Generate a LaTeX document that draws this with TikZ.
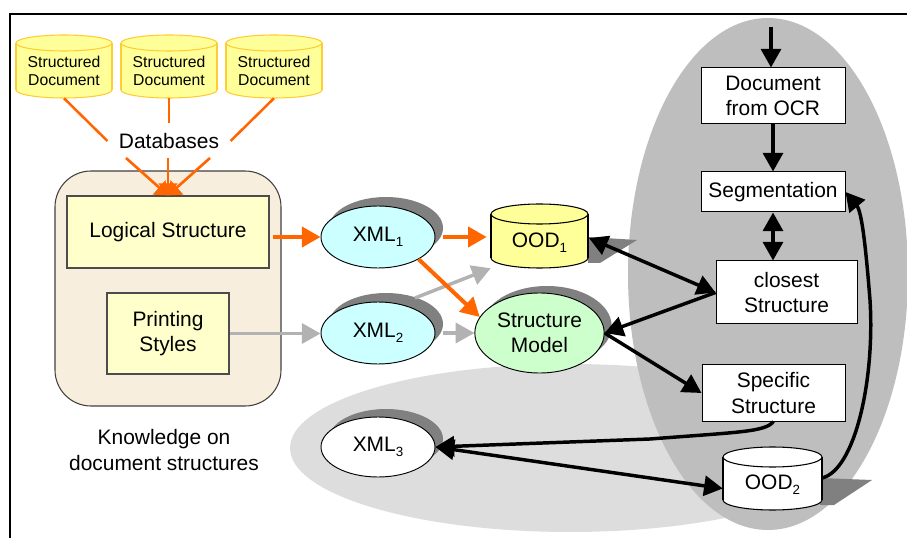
\documentclass[tikz,border=0pt]{standalone}
\usepackage{fontspec}
\setmainfont{Liberation Sans}
\usetikzlibrary{arrows.meta,shapes.geometric,calc}
\definecolor{orng}{HTML}{FF6600}
\definecolor{gryarrow}{HTML}{B2B2B2}
\definecolor{shd}{HTML}{808080}
\definecolor{bigg}{HTML}{BEBEBE}
\definecolor{lightg}{HTML}{DDDDDD}
\definecolor{beige}{HTML}{F8EEDD}
\definecolor{paley}{HTML}{FFFFCC}
\definecolor{midy}{HTML}{FFFF99}
\definecolor{cyanf}{HTML}{CCFFFF}
\definecolor{mint}{HTML}{CCFFCC}
\definecolor{cyledge}{HTML}{FFCC33}
\newcommand{\bigfont}{\fontsize{15.7}{18.8}\selectfont}
\newcommand{\smallfont}{\fontsize{11.8}{14.4}\selectfont}
\newcommand{\sbs}[1]{\raisebox{-0.45ex}{\fontsize{10}{10}\selectfont #1}}
\newcommand{\lift}[1]{\rule[-#1]{0pt}{1pt}}
\newcommand{\cyl}[9]{%
  \pgfmathsetmacro{\cylx}{(#2+#4)/2}\pgfmathsetmacro{\cylr}{(#4-#2)/2}%
  \path[fill=#7,draw=#8,line width=.8pt] (\cylx,#5-#6) ellipse [x radius=\cylr,y radius=#6];
  \fill[#7] (#2,#3+#6) rectangle (#4,#5-#6);
  \draw[#8,line width=.8pt] (#2,#3+#6) -- (#2,#5-#6) (#4,#3+#6) -- (#4,#5-#6);
  \path[fill=#7,draw=#8,line width=.8pt] (\cylx,#3+#6) ellipse [x radius=\cylr,y radius=#6];
  \pgfmathsetmacro{\cyly}{(#3+2*#6+#5)/2}\pgfmathsetmacro{\cylw}{(#4-#2)*.75}\pgfmathsetmacro{\cylh}{(#5-#3-2*#6)*.75}%
  \node[cyltext,minimum width=\cylw pt,minimum height=\cylh pt] (#1) at (\cylx,\cyly) {#9};
}
\tikzset{
  cyltext/.style={inner sep=0pt,align=center},
  whitebox/.style={draw=black,line width=.75pt,fill=white,inner sep=0pt,align=center,font=\bigfont},
  ybox/.style={draw=black!70,line width=.9pt,fill=paley,inner sep=0pt,align=center,font=\bigfont},
  ell/.style={ellipse,draw=black,line width=.7pt,inner sep=0pt,font=\bigfont,align=center},
  ellshadow/.style={ellipse,fill=shd,inner sep=0pt},
  blk/.style={line width=2.6pt,-{Triangle[length=14pt,width=15pt]}},
  blkboth/.style={line width=2.6pt,{Triangle[length=14pt,width=15pt]}-{Triangle[length=14pt,width=15pt]}},
  org/.style={orng,line width=3pt,-{Triangle[length=14pt,width=15pt]}},
  orgline/.style={orng,line width=1.9pt},
  orgthin/.style={orng,line width=2pt,-{Triangle[length=9pt,width=14pt]}},
  gry/.style={gryarrow,line width=2.6pt,-{Triangle[length=14pt,width=15pt]}},
  plaintext/.style={font=\bigfont,align=center,inner sep=0pt},
}
\begin{document}
\begin{tikzpicture}[x=.75pt,y=-.75pt]
\useasboundingbox (0,0) rectangle (907,538);
\draw[black,line width=2.2pt] (10,538) -- (10,14) -- (907,14);

% background ellipses
\fill[lightg] (570,448) ellipse [x radius=280,y radius=84];
\fill[bigg] (768,274) ellipse [x radius=140,y radius=256];

% knowledge panel
\path[fill=beige,draw=black!75,line width=.8pt,rounded corners=27pt] (55,171) rectangle (281,406);
\node[ybox,minimum width=151.5pt,minimum height=54pt] (log) at (168,232) {Logical Structure};
\node[ybox,minimum width=91.5pt,minimum height=60.75pt] (prn) at (168,333.5) {Printing\\Styles};
\node[plaintext] (kn) at (164,450) {Knowledge on\\document structures};

% cylinders: top row
\cyl{sd1}{16}{35}{112}{98}{8}{midy}{cyledge}{\smallfont Structured\\[1.5pt]\smallfont Document\lift{5pt}}
\cyl{sd2}{121}{35}{217}{98}{8}{midy}{cyledge}{\smallfont Structured\\[1.5pt]\smallfont Document\lift{5pt}}
\cyl{sd3}{226}{35}{322}{98}{8}{midy}{cyledge}{\smallfont Structured\\[1.5pt]\smallfont Document\lift{5pt}}
\node[plaintext,minimum width=92pt,minimum height=27pt] (db) at (169,141) {Databases};
\coordinate (dbl) at (126,158);
\coordinate (dbr) at (210,158);
\coordinate (dbm) at (168,158);
\draw[orgline] (sd1.south) -- (db.west);
\draw[orgline] (sd2.south) -- (db.north);
\draw[orgline] (sd3.south) -- (db.east);
\draw[orgthin] (dbl) -- (log.north);
\draw[orgthin] (dbm) -- (log.north);
\draw[orgthin] (dbr) -- (log.north);

% shadows
\node[ellshadow,minimum width=85.5pt,minimum height=46.5pt] (xml1s) at (386,228) {};
\node[ellshadow,minimum width=85.5pt,minimum height=46.5pt] (xml2s) at (386,324) {};
\node[ellshadow,minimum width=97pt,minimum height=60pt] (sms) at (547,326) {};
\node[ellshadow,minimum width=85.5pt,minimum height=45pt] (xml3s) at (386,439) {};
\fill[shd] (588,237) -- (637,240) -- (600,263) -- (588,263) -- cycle;
\fill[shd] (820,478) -- (872,480) -- (834,505) -- (820,505) -- cycle;

% cylinders: mid
\cyl{ood1}{491}{204}{588}{268}{10}{midy}{black}{\bigfont OOD\sbs{1}\lift{9pt}}
\cyl{ood2}{723}{447}{822}{510}{10}{white}{black}{\bigfont OOD\sbs{2}\lift{9pt}}

% gray arrows (beneath)
\coordinate (x2up) at (415,298);
\draw[gry] (x2up) -- (ood1.south west);

% ellipses
\node[ell,fill=cyanf,minimum width=85.5pt,minimum height=46.5pt] (xml1) at (378,237) {XML\sbs{1}};
\node[ell,fill=cyanf,minimum width=85.5pt,minimum height=46.5pt] (xml2) at (378,333) {XML\sbs{2}};
\node[ell,fill=mint,minimum width=97pt,minimum height=60pt] (sm) at (539.5,333) {Structure\\Model};
\node[ell,fill=white,minimum width=85.5pt,minimum height=45pt] (xml3) at (378,447) {XML\sbs{3}};

% white boxes
\node[whitebox,minimum width=108pt,minimum height=42pt] (ocr) at (773,96) {Document\\from OCR};
\node[whitebox,minimum width=108pt,minimum height=30pt] (seg) at (773,192) {Segmentation};
\node[whitebox,minimum width=105.75pt,minimum height=47.25pt] (cls) at (786.5,292.5) {closest\\Structure};
\node[whitebox,minimum width=107.25pt,minimum height=42pt] (spc) at (773.5,393) {Specific\\Structure};
\coordinate (inlet) at (771,27);
\coordinate (o1port) at (589,238);

% coloured connectors
\draw[org,shorten <=2.5pt] (log.east |- xml1.west) -- (xml1.west);
\draw[org,shorten <=6pt,shorten >=3pt] (xml1.east) -- (xml1.east -| ood1.west);
\draw[gry] (prn.east) -- (prn.east -| xml2.west);
\draw[gry,shorten <=6pt] (xml2.east) -- (sm.west);
\draw[org] (xml1.south east) -- (sm.165);

% black connectors
\draw[blk] (inlet) -- (inlet |- ocr.north);
\draw[blk] (ocr.south) -- (seg.north);
\draw[blkboth] (seg.south) -- (seg.south |- cls.north);
\draw[blkboth] (o1port) -- (cls.west);
\draw[blk] (cls.west) -- (sm.east);
\draw[blk] (sm.east) -- (spc.west);
\draw[blk] (spc.south) .. controls (765,432) and (740,432) .. (650,439) -- (xml3.east);
\draw[blkboth] (xml3.east) -- (ood2.west);
\coordinate (o2out) at (822,478);
\draw[blk] (o2out) .. controls (855,470) and (875,380) .. (870,300) .. controls (866,250) and (862,212) .. (seg.east);
\end{tikzpicture}
\end{document}
